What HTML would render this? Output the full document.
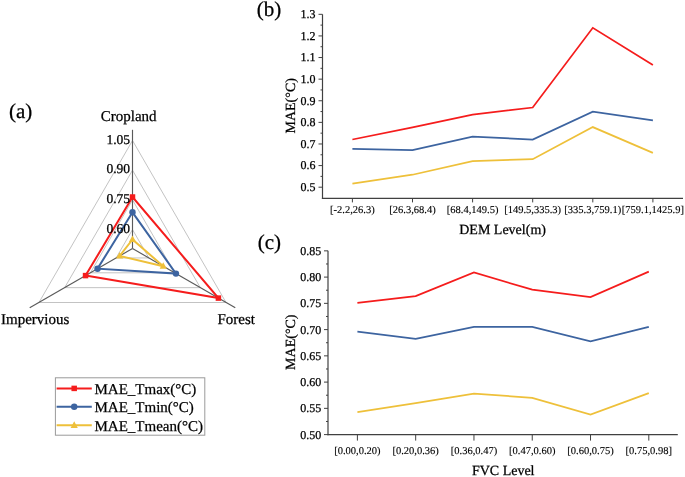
<!DOCTYPE html>
<html><head><meta charset="utf-8"><style>
html,body{margin:0;padding:0;background:#fff;}
body{width:685px;height:477px;overflow:hidden;}
svg{display:block;-webkit-font-smoothing:antialiased;will-change:transform;}
text{font-family:"Liberation Serif",serif;text-rendering:geometricPrecision;fill:#000;stroke:#000;stroke-width:0.25px;}
</style></head><body>
<svg width="685" height="477" viewBox="0 0 685 477">
<rect width="685" height="477" fill="#fff"/>
<polygon points="132.50,229.59 116.12,257.95 148.88,257.95" fill="none" stroke="#b4b4b4" stroke-width="0.8"/>
<polygon points="132.50,199.89 90.40,272.80 174.60,272.80" fill="none" stroke="#b4b4b4" stroke-width="0.8"/>
<polygon points="132.50,170.19 64.68,287.65 200.32,287.65" fill="none" stroke="#b4b4b4" stroke-width="0.8"/>
<polygon points="132.50,140.49 38.96,302.50 226.04,302.50" fill="none" stroke="#b4b4b4" stroke-width="0.8"/>
<line x1="132.50" y1="248.50" x2="132.50" y2="129.80" stroke="#5a5a5a" stroke-width="1.15"/>
<line x1="132.50" y1="248.50" x2="29.70" y2="307.85" stroke="#5a5a5a" stroke-width="1.15"/>
<line x1="132.50" y1="248.50" x2="235.30" y2="307.85" stroke="#5a5a5a" stroke-width="1.15"/>
<polygon points="132.50,239.50 119.60,255.95 163.24,266.25" fill="none" stroke="#eec03a" stroke-width="2" stroke-linejoin="miter"/>
<polygon points="132.50,235.50 128.90,242.10 136.10,242.10" fill="#eec03a"/>
<polygon points="119.60,251.95 116.00,258.55 123.20,258.55" fill="#eec03a"/>
<polygon points="163.24,262.25 159.64,268.85 166.84,268.85" fill="#eec03a"/>
<polygon points="132.50,212.30 97.51,268.70 175.97,273.60" fill="none" stroke="#3d64a0" stroke-width="2" stroke-linejoin="miter"/>
<circle cx="132.50" cy="212.30" r="3.2" fill="#3d64a0"/>
<circle cx="97.51" cy="268.70" r="3.2" fill="#3d64a0"/>
<circle cx="175.97" cy="273.60" r="3.2" fill="#3d64a0"/>
<polygon points="132.50,197.00 85.56,275.60 218.41,298.10" fill="none" stroke="#f51c1c" stroke-width="2" stroke-linejoin="miter"/>
<rect x="129.75" y="194.25" width="5.5" height="5.5" fill="#f51c1c"/>
<rect x="82.81" y="272.85" width="5.5" height="5.5" fill="#f51c1c"/>
<rect x="215.66" y="295.35" width="5.5" height="5.5" fill="#f51c1c"/>
<text x="130" y="232.79" font-size="13.5" text-anchor="end">0.60</text>
<text x="130" y="203.09" font-size="13.5" text-anchor="end">0.75</text>
<text x="130" y="173.39" font-size="13.5" text-anchor="end">0.90</text>
<text x="130" y="143.69" font-size="13.5" text-anchor="end">1.05</text>
<text x="128.7" y="121" font-size="15" text-anchor="middle">Cropland</text>
<text x="1" y="324.3" font-size="15">Impervious</text>
<text x="217.5" y="324.4" font-size="15">Forest</text>
<text x="9" y="118" font-size="21">(a)</text>
<rect x="55.4" y="377.8" width="149.4" height="57.4" fill="none" stroke="#9a9a9a" stroke-width="1"/>
<line x1="56.6" y1="388.40" x2="91.8" y2="388.40" stroke="#f51c1c" stroke-width="2"/>
<rect x="71.45" y="385.65" width="5.5" height="5.5" fill="#f51c1c"/>
<text x="94.5" y="393.60" font-size="15">MAE_Tmax(°C)</text>
<line x1="56.6" y1="406.80" x2="91.8" y2="406.80" stroke="#3d64a0" stroke-width="2"/>
<circle cx="74.20" cy="406.80" r="3.2" fill="#3d64a0"/>
<text x="94.5" y="412.00" font-size="15">MAE_Tmin(°C)</text>
<line x1="56.6" y1="425.30" x2="91.8" y2="425.30" stroke="#eec03a" stroke-width="2"/>
<polygon points="74.20,421.30 70.60,427.90 77.80,427.90" fill="#eec03a"/>
<text x="94.5" y="430.50" font-size="15">MAE_Tmean(°C)</text>
<line x1="322.50" y1="14.32" x2="322.50" y2="199.00" stroke="#404040" stroke-width="1.2"/>
<line x1="321.90" y1="198.40" x2="683.00" y2="198.40" stroke="#404040" stroke-width="1.2"/>
<line x1="318.50" y1="187.20" x2="322.50" y2="187.20" stroke="#404040" stroke-width="1"/>
<text x="315.60" y="191.10" font-size="12" text-anchor="end">0.5</text>
<line x1="318.50" y1="165.59" x2="322.50" y2="165.59" stroke="#404040" stroke-width="1"/>
<text x="315.60" y="169.49" font-size="12" text-anchor="end">0.6</text>
<line x1="318.50" y1="143.98" x2="322.50" y2="143.98" stroke="#404040" stroke-width="1"/>
<text x="315.60" y="147.88" font-size="12" text-anchor="end">0.7</text>
<line x1="318.50" y1="122.37" x2="322.50" y2="122.37" stroke="#404040" stroke-width="1"/>
<text x="315.60" y="126.27" font-size="12" text-anchor="end">0.8</text>
<line x1="318.50" y1="100.76" x2="322.50" y2="100.76" stroke="#404040" stroke-width="1"/>
<text x="315.60" y="104.66" font-size="12" text-anchor="end">0.9</text>
<line x1="318.50" y1="79.15" x2="322.50" y2="79.15" stroke="#404040" stroke-width="1"/>
<text x="315.60" y="83.05" font-size="12" text-anchor="end">1.0</text>
<line x1="318.50" y1="57.54" x2="322.50" y2="57.54" stroke="#404040" stroke-width="1"/>
<text x="315.60" y="61.44" font-size="12" text-anchor="end">1.1</text>
<line x1="318.50" y1="35.93" x2="322.50" y2="35.93" stroke="#404040" stroke-width="1"/>
<text x="315.60" y="39.83" font-size="12" text-anchor="end">1.2</text>
<line x1="318.50" y1="14.32" x2="322.50" y2="14.32" stroke="#404040" stroke-width="1"/>
<text x="315.60" y="18.22" font-size="12" text-anchor="end">1.3</text>
<line x1="320.50" y1="176.39" x2="322.50" y2="176.39" stroke="#404040" stroke-width="1"/>
<line x1="320.50" y1="154.78" x2="322.50" y2="154.78" stroke="#404040" stroke-width="1"/>
<line x1="320.50" y1="133.17" x2="322.50" y2="133.17" stroke="#404040" stroke-width="1"/>
<line x1="320.50" y1="111.56" x2="322.50" y2="111.56" stroke="#404040" stroke-width="1"/>
<line x1="320.50" y1="89.95" x2="322.50" y2="89.95" stroke="#404040" stroke-width="1"/>
<line x1="320.50" y1="68.34" x2="322.50" y2="68.34" stroke="#404040" stroke-width="1"/>
<line x1="320.50" y1="46.73" x2="322.50" y2="46.73" stroke="#404040" stroke-width="1"/>
<line x1="320.50" y1="25.12" x2="322.50" y2="25.12" stroke="#404040" stroke-width="1"/>
<line x1="352.40" y1="198.40" x2="352.40" y2="202.40" stroke="#404040" stroke-width="1"/>
<text x="352.40" y="212.80" font-size="10.5" text-anchor="middle" style="stroke-width:0.12px">[-2.2,26.3)</text>
<line x1="412.50" y1="198.40" x2="412.50" y2="202.40" stroke="#404040" stroke-width="1"/>
<text x="412.50" y="212.80" font-size="10.5" text-anchor="middle" style="stroke-width:0.12px">[26.3,68.4)</text>
<line x1="472.60" y1="198.40" x2="472.60" y2="202.40" stroke="#404040" stroke-width="1"/>
<text x="472.60" y="212.80" font-size="10.5" text-anchor="middle" style="stroke-width:0.12px">[68.4,149.5)</text>
<line x1="532.70" y1="198.40" x2="532.70" y2="202.40" stroke="#404040" stroke-width="1"/>
<text x="532.70" y="212.80" font-size="10.5" text-anchor="middle" style="stroke-width:0.12px">[149.5,335.3)</text>
<line x1="592.80" y1="198.40" x2="592.80" y2="202.40" stroke="#404040" stroke-width="1"/>
<text x="592.80" y="212.80" font-size="10.5" text-anchor="middle" style="stroke-width:0.12px">[335.3,759.1)</text>
<line x1="652.90" y1="198.40" x2="652.90" y2="202.40" stroke="#404040" stroke-width="1"/>
<text x="652.90" y="212.80" font-size="10.5" text-anchor="middle" style="stroke-width:0.12px">[759.1,1425.9]</text>
<polyline points="352.40,183.59 412.50,174.73 472.60,161.12 532.70,159.17 592.80,127.08 652.90,152.91" fill="none" stroke="#eec03a" stroke-width="1.75" stroke-linejoin="miter"/>
<polyline points="352.40,148.80 412.50,150.10 472.60,136.70 532.70,139.51 592.80,111.63 652.90,120.28" fill="none" stroke="#3d64a0" stroke-width="1.75" stroke-linejoin="miter"/>
<polyline points="352.40,139.51 412.50,127.41 472.60,114.66 532.70,107.53 592.80,27.79 652.90,64.96" fill="none" stroke="#f51c1c" stroke-width="1.75" stroke-linejoin="miter"/>
<text x="502.60" y="233.60" font-size="14" text-anchor="middle">DEM Level(m)</text>
<text transform="translate(295.30 105.80) rotate(-90)" font-size="14" text-anchor="middle">MAE(°C)</text>
<text x="256.8" y="15.5" font-size="21">(b)</text>
<line x1="328.00" y1="250.85" x2="328.00" y2="435.20" stroke="#404040" stroke-width="1.2"/>
<line x1="327.40" y1="434.60" x2="677.80" y2="434.60" stroke="#404040" stroke-width="1.2"/>
<line x1="324.00" y1="434.60" x2="328.00" y2="434.60" stroke="#404040" stroke-width="1"/>
<text x="321.30" y="438.50" font-size="12" text-anchor="end">0.50</text>
<line x1="324.00" y1="408.35" x2="328.00" y2="408.35" stroke="#404040" stroke-width="1"/>
<text x="321.30" y="412.25" font-size="12" text-anchor="end">0.55</text>
<line x1="324.00" y1="382.10" x2="328.00" y2="382.10" stroke="#404040" stroke-width="1"/>
<text x="321.30" y="386.00" font-size="12" text-anchor="end">0.60</text>
<line x1="324.00" y1="355.85" x2="328.00" y2="355.85" stroke="#404040" stroke-width="1"/>
<text x="321.30" y="359.75" font-size="12" text-anchor="end">0.65</text>
<line x1="324.00" y1="329.60" x2="328.00" y2="329.60" stroke="#404040" stroke-width="1"/>
<text x="321.30" y="333.50" font-size="12" text-anchor="end">0.70</text>
<line x1="324.00" y1="303.35" x2="328.00" y2="303.35" stroke="#404040" stroke-width="1"/>
<text x="321.30" y="307.25" font-size="12" text-anchor="end">0.75</text>
<line x1="324.00" y1="277.10" x2="328.00" y2="277.10" stroke="#404040" stroke-width="1"/>
<text x="321.30" y="281.00" font-size="12" text-anchor="end">0.80</text>
<line x1="324.00" y1="250.85" x2="328.00" y2="250.85" stroke="#404040" stroke-width="1"/>
<text x="321.30" y="254.75" font-size="12" text-anchor="end">0.85</text>
<line x1="326.00" y1="421.48" x2="328.00" y2="421.48" stroke="#404040" stroke-width="1"/>
<line x1="326.00" y1="395.22" x2="328.00" y2="395.22" stroke="#404040" stroke-width="1"/>
<line x1="326.00" y1="368.98" x2="328.00" y2="368.98" stroke="#404040" stroke-width="1"/>
<line x1="326.00" y1="342.73" x2="328.00" y2="342.73" stroke="#404040" stroke-width="1"/>
<line x1="326.00" y1="316.47" x2="328.00" y2="316.47" stroke="#404040" stroke-width="1"/>
<line x1="326.00" y1="290.23" x2="328.00" y2="290.23" stroke="#404040" stroke-width="1"/>
<line x1="326.00" y1="263.98" x2="328.00" y2="263.98" stroke="#404040" stroke-width="1"/>
<line x1="357.40" y1="434.60" x2="357.40" y2="440.60" stroke="#404040" stroke-width="1"/>
<text x="357.40" y="454.00" font-size="10.5" text-anchor="middle" style="stroke-width:0.12px">[0.00,0.20)</text>
<line x1="415.68" y1="434.60" x2="415.68" y2="440.60" stroke="#404040" stroke-width="1"/>
<text x="415.68" y="454.00" font-size="10.5" text-anchor="middle" style="stroke-width:0.12px">[0.20,0.36)</text>
<line x1="473.96" y1="434.60" x2="473.96" y2="440.60" stroke="#404040" stroke-width="1"/>
<text x="473.96" y="454.00" font-size="10.5" text-anchor="middle" style="stroke-width:0.12px">[0.36,0.47)</text>
<line x1="532.24" y1="434.60" x2="532.24" y2="440.60" stroke="#404040" stroke-width="1"/>
<text x="532.24" y="454.00" font-size="10.5" text-anchor="middle" style="stroke-width:0.12px">[0.47,0.60)</text>
<line x1="590.52" y1="434.60" x2="590.52" y2="440.60" stroke="#404040" stroke-width="1"/>
<text x="590.52" y="454.00" font-size="10.5" text-anchor="middle" style="stroke-width:0.12px">[0.60,0.75)</text>
<line x1="648.80" y1="434.60" x2="648.80" y2="440.60" stroke="#404040" stroke-width="1"/>
<text x="648.80" y="454.00" font-size="10.5" text-anchor="middle" style="stroke-width:0.12px">[0.75,0.98]</text>
<polyline points="357.40,412.02 415.68,403.10 473.96,393.65 532.24,397.85 590.52,414.65 648.80,393.13" fill="none" stroke="#eec03a" stroke-width="1.75" stroke-linejoin="miter"/>
<polyline points="357.40,331.54 415.68,338.79 473.96,326.92 532.24,326.82 590.52,341.41 648.80,326.82" fill="none" stroke="#3d64a0" stroke-width="1.75" stroke-linejoin="miter"/>
<polyline points="357.40,302.83 415.68,296.16 473.96,272.53 532.24,289.70 590.52,297.05 648.80,271.59" fill="none" stroke="#f51c1c" stroke-width="1.75" stroke-linejoin="miter"/>
<text x="503.20" y="475.30" font-size="14" text-anchor="middle">FVC Level</text>
<text transform="translate(295.30 342.20) rotate(-90)" font-size="14" text-anchor="middle">MAE(°C)</text>
<text x="257.8" y="249.2" font-size="21">(c)</text>
</svg>
</body></html>
